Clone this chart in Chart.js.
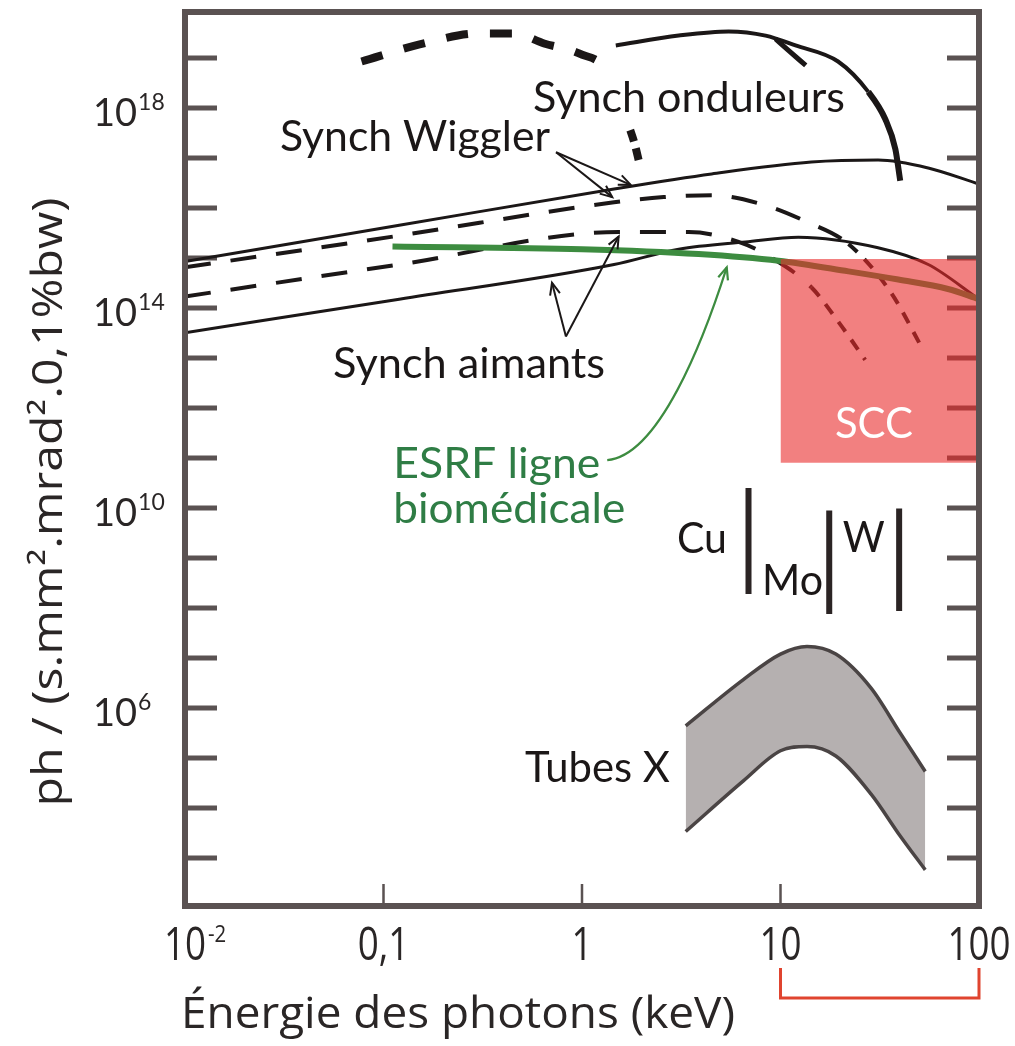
<!DOCTYPE html>
<html>
<head>
<meta charset="utf-8">
<script src="https://cdn.jsdelivr.net/npm/chart.js@4.4.0/dist/chart.umd.min.js"></script>
<style>
  html, body { margin: 0; padding: 0; background: #fff; }
  #wrap { width: 1015px; height: 1046px; }
</style>
</head>
<body>
<div id="wrap"><canvas id="myChart" width="1015" height="1046"></canvas></div>
<script>
// photon energy (keV) / brilliance values
var undSolidE = [1.48, 3.07, 5.48, 8.41, 11.9, 19.5, 27.7, 33.7, 37.9, 40.1];
var undSolidF = [1.78e19, 2.8e19, 3.4e19, 2.8e19, 1.78e19, 8.5e18, 2.1e18, 6.0e17, 1.5e17, 3.5e16];
var undBranchE = [9.44, 11.0, 13.4];
var undBranchF = [2.4e19, 1.4e19, 7.1e18];
var undDashE = [0.0775, 0.152, 0.303, 0.455, 0.644, 0.966, 1.37, 1.75, 1.85, 1.93];
var undDashF = [8.5e18, 1.86e19, 3.1e19, 3.1e19, 1.95e19, 1.23e19, 4.9e18, 3.6e17, 1.8e17, 9e16];
var wigSolidE = [0.01, 0.12, 1.45, 4.5, 14.3, 31, 55.5, 100];
var wigSolidF = [8.5e14, 4.5e15, 2.4e16, 4.8e16, 8.3e16, 9.1e16, 6.3e16, 3.0e16];
var wigDashE = [0.01, 0.12, 1.45, 2.58, 4.5, 8.0, 13.4, 22.0, 36.1, 52.3];
var wigDashF = [6.5e14, 2.8e15, 1.3e16, 1.65e16, 1.8e16, 1.2e16, 5.4e15, 1.9e15, 2.0e14, 1.45e13];
var magDashE = [0.01, 0.12, 1.53, 3.45, 6.15, 8.7, 14.3, 19.5, 26.7];
var magDashF = [1.7e14, 7.4e14, 3.3e15, 3.3e15, 2.1e15, 1.1e15, 2.6e14, 5.4e13, 9.2e12];
var magSolidE = [0.01, 0.12, 1.45, 3.07, 6.67, 12.3, 31, 55.5, 100];
var magSolidF = [3.2e13, 1.5e14, 7.4e14, 1.5e15, 2.1e15, 2.6e15, 1.6e15, 7.4e14, 1.5e14];
var esrfE = [0.111, 1.0, 3.87, 9.77, 22, 39.2, 69.8, 100];
var esrfF = [1.7e15, 1.5e15, 1.2e15, 8.8e14, 5.4e14, 3.7e14, 2.4e14, 1.5e14];
var tubeE = [3.33, 6.5, 10, 13.6, 19, 28.6, 40, 53.6];
var tubeHigh = [4.4e5, 3.7e6, 1.2e7, 1.7e7, 1.2e7, 2.5e6, 3.2e5, 5.4e4];
var tubeLow = [3.4e3, 3.5e4, 1.4e5, 1.7e5, 1.1e5, 1.9e4, 2.8e3, 5.8e2];
var sccE = [10, 100];
var sccTop = [9.5e14, 9.5e14];
var sccBottom = 8e10;
var anodes = ['Cu', 'Mo', 'W'];
var anodeE = [6.9, 17.6, 39.6];
var anodeTop = [2.5e10, 8.9e9, 9.8e9];
var anodeBottom = [1.9e8, 7.6e7, 8.7e7];

// axes
var yMarks = [1e3, 1e4, 1e5, 1e6, 1e7, 1e8, 1e9, 1e10, 1e11, 1e12, 1e13, 1e14, 1e15, 1e16, 1e17, 1e18, 1e19];
var yLabelVals = [1e6, 1e10, 1e14, 1e18];
var yLabelExp = ['6', '10', '14', '18'];
var xMarks = [0.1, 1, 10];
var xLabelVals = [0.01, 0.1, 1, 10, 100];
var xLabelText = ['10', '0,1', '1', '10', '100'];
var xLabelSup = ['-2', '', '', '', ''];

// labels and arrows, anchored in data units
var notes = [
  {t: 'Synch onduleurs', e: 0.566, f: 8.3e17, w: 312, c: '#1b1717'},
  {t: 'Synch Wiggler', e: 0.0301, f: 1.4e17, w: 270, c: '#1b1717'},
  {t: 'Synch aimants', e: 0.0557, f: 4.0e12, w: 272, c: '#1b1717'},
  {t: 'ESRF ligne', e: 0.112, f: 4.0e10, w: 207, c: '#2f7d45'},
  {t: 'biomédicale', e: 0.112, f: 5.0e9, w: 232, c: '#2f7d45'},
  {t: 'SCC', e: 18.8, f: 2.5e11, w: 78, c: '#ffffff'},
  {t: 'Cu', e: 3.01, f: 1.26e9, w: 50, c: '#1b1717'},
  {t: 'Mo', e: 8.07, f: 1.8e8, w: 61, c: '#1b1717'},
  {t: 'W', e: 20.6, f: 1.3e9, w: 42, c: '#1b1717'},
  {t: 'Tubes X', e: 0.516, f: 3.3e4, w: 145, c: '#1b1717'}
];
var arrows = [
  [[0.74, 1.3e17], [1.42, 1.65e16]],
  [[0.74, 1.3e17], [1.76, 2.9e16]],
  [[0.83, 2.7e13], [0.706, 3.2e14]],
  [[0.83, 2.7e13], [1.53, 2.7e15]]
];
var esrfArrow = [[1.34, 9.1e10], [2.44, 1.1e11], [4.10, 2.3e13], [5.36, 6.5e14]];

var ink = '#1b1717';
var axisInk = '#5a5252';
var green = '#3d8c40';

function pts(E, F) {
  return E.map(function(e, i) { return {x: e, y: F[i]}; });
}
function curve(label, E, F, opts) {
  return Object.assign({
    label: label, data: pts(E, F), borderColor: ink, borderWidth: 3,
    pointRadius: 0, fill: false, cubicInterpolationMode: 'monotone', order: 1
  }, opts || {});
}

var datasets = [
  curve('ESRF', esrfE, esrfF, {borderColor: green, borderWidth: 6}),
  curve('Onduleurs', undSolidE, undSolidF, {
    borderWidth: 4,
    segment: {borderWidth: function(c) { return c.p0.parsed.x >= 27 ? 6 : undefined; }}
  }),
  curve('Onduleurs 2', undBranchE, undBranchF, {borderWidth: 5}),
  curve('Onduleurs pointillé', undDashE, undDashF, {
    borderWidth: 8, borderDash: [22, 22],
    segment: {
      borderDash: function(c) { return c.p0.parsed.x >= 1.7 ? [12, 7] : undefined; },
      borderColor: function(c) { return (c.p0.parsed.x >= 1.3 && c.p0.parsed.x < 1.7) ? 'rgba(0,0,0,0)' : undefined; }
    }
  }),
  curve('Wiggler', wigSolidE, wigSolidF),
  curve('Wiggler pointillé', wigDashE, wigDashF, {
    borderWidth: 4, borderDash: [26, 20],
    segment: {borderDash: function(c) { return c.p0.parsed.x >= 20 ? [12, 10] : undefined; }}
  }),
  curve('Aimants pointillé', magDashE, magDashF, {
    borderWidth: 4, borderDash: [26, 20],
    segment: {borderDash: function(c) { return c.p0.parsed.x >= 10 ? [12, 10] : undefined; }}
  }),
  curve('Aimants', magSolidE, magSolidF),
  curve('Tubes haut', tubeE, tubeHigh, {borderColor: '#4a4444', borderWidth: 3.5}),
  curve('Tubes bas', tubeE, tubeLow, {borderColor: '#4a4444', borderWidth: 3.5}),
  // grey band between the two tube curves (index 9 is the lower curve)
  curve('Tubes X', tubeE, tubeHigh, {borderWidth: 0, fill: 9, backgroundColor: '#b5b0b0'})
];
anodes.forEach(function(a, i) {
  datasets.push({
    label: a, data: [{x: anodeE[i], y: anodeTop[i]}, {x: anodeE[i], y: anodeBottom[i]}],
    borderColor: '#2b2424', borderWidth: 6, pointRadius: 0, fill: false, order: 1
  });
});
datasets.push({
  label: 'SCC', data: pts(sccE, sccTop), borderWidth: 0, pointRadius: 0,
  fill: {value: sccBottom}, backgroundColor: 'rgba(233,43,43,0.6)', order: 0
});

function fitText(ctx, s, x, y, font, w, align) {
  ctx.save();
  ctx.font = font;
  var k = w ? w / ctx.measureText(s).width : 1;
  ctx.translate(x, y);
  ctx.scale(k, 1);
  ctx.textAlign = align || 'left';
  ctx.fillText(s, 0, 0);
  ctx.restore();
}
function head(ctx, x0, y0, x1, y1, len) {
  var ang = Math.atan2(y1 - y0, x1 - x0);
  ctx.beginPath();
  ctx.moveTo(x1 - len * Math.cos(ang - 0.4), y1 - len * Math.sin(ang - 0.4));
  ctx.lineTo(x1, y1);
  ctx.lineTo(x1 - len * Math.cos(ang + 0.4), y1 - len * Math.sin(ang + 0.4));
  ctx.stroke();
}

var decor = {
  id: 'decor',
  beforeDatasetsDraw: function(chart) {
    var ctx = chart.ctx, a = chart.chartArea, x = chart.scales.x, y = chart.scales.y;
    ctx.save();
    ctx.strokeStyle = axisInk;
    ctx.lineWidth = 5;
    ctx.beginPath();
    yMarks.forEach(function(v) {
      var py = y.getPixelForValue(v);
      ctx.moveTo(a.left, py); ctx.lineTo(a.left + 32, py);
      ctx.moveTo(a.right - 32, py); ctx.lineTo(a.right, py);
    });
    ctx.stroke();
    ctx.lineWidth = 2.5;
    ctx.beginPath();
    xMarks.forEach(function(v) {
      var px = x.getPixelForValue(v);
      ctx.moveTo(px, a.bottom); ctx.lineTo(px, a.bottom - 22);
    });
    ctx.stroke();
    ctx.restore();
  },
  afterDatasetsDraw: function(chart) {
    var ctx = chart.ctx, a = chart.chartArea, x = chart.scales.x, y = chart.scales.y;
    ctx.save();
    ctx.strokeStyle = axisInk;
    ctx.lineWidth = 6;
    ctx.strokeRect(a.left, a.top, a.right - a.left, a.bottom - a.top);

    // black pointer arrows
    ctx.strokeStyle = ink;
    ctx.lineWidth = 2;
    arrows.forEach(function(ar) {
      var x0 = x.getPixelForValue(ar[0][0]), y0 = y.getPixelForValue(ar[0][1]);
      var x1 = x.getPixelForValue(ar[1][0]), y1 = y.getPixelForValue(ar[1][1]);
      ctx.beginPath(); ctx.moveTo(x0, y0); ctx.lineTo(x1, y1); ctx.stroke();
      head(ctx, x0, y0, x1, y1, 13);
    });
    // green curved arrow
    var p = esrfArrow.map(function(q) { return [x.getPixelForValue(q[0]), y.getPixelForValue(q[1])]; });
    ctx.strokeStyle = green;
    ctx.lineWidth = 2.2;
    ctx.beginPath();
    ctx.moveTo(p[0][0], p[0][1]);
    ctx.bezierCurveTo(p[1][0], p[1][1], p[2][0], p[2][1], p[3][0], p[3][1]);
    ctx.stroke();
    head(ctx, p[2][0], p[2][1], p[3][0], p[3][1], 13);

    // red bracket under 10-100 keV
    var bx0 = x.getPixelForValue(10), bx1 = x.getPixelForValue(100);
    ctx.strokeStyle = '#e0442f';
    ctx.lineWidth = 3;
    ctx.beginPath();
    ctx.moveTo(bx0, a.bottom + 62); ctx.lineTo(bx0, a.bottom + 92);
    ctx.lineTo(bx1, a.bottom + 92); ctx.lineTo(bx1, a.bottom + 62);
    ctx.stroke();
    ctx.restore();
  },
  afterDraw: function(chart) {
    var ctx = chart.ctx, a = chart.chartArea, x = chart.scales.x, y = chart.scales.y;
    ctx.save();
    ctx.textBaseline = 'alphabetic';
    // annotations
    notes.forEach(function(n) {
      ctx.fillStyle = n.c;
      fitText(ctx, n.t, x.getPixelForValue(n.e), y.getPixelForValue(n.f), '42px Lato', n.w);
    });
    // y tick labels
    ctx.fillStyle = '#2a2626';
    yLabelVals.forEach(function(v, i) {
      var py = y.getPixelForValue(v);
      ctx.font = '38px Lato';
      ctx.textAlign = 'left';
      ctx.fillText('10', 93, py + 18);
      var w = ctx.measureText('10').width;
      ctx.font = '23px Lato';
      ctx.fillText(yLabelExp[i], 93 + w + 1, py + 2);
    });
    // x tick labels
    xLabelVals.forEach(function(v, i) {
      var px = x.getPixelForValue(v);
      ctx.save();
      ctx.font = '46px "Open Sans"';
      var w = ctx.measureText(xLabelText[i]).width * 0.8;
      fitText(ctx, xLabelText[i], px, a.bottom + 54, '46px "Open Sans"', w, 'center');
      if (xLabelSup[i]) {
        ctx.font = '24px "Open Sans"';
        var ws = ctx.measureText(xLabelSup[i]).width * 0.85;
        fitText(ctx, xLabelSup[i], px + w / 2 + 2, a.bottom + 36, '24px "Open Sans"', ws, 'left');
      }
      ctx.restore();
    });
    // axis titles
    fitText(ctx, 'Énergie des photons (keV)', 181, 1028, '44px "Open Sans"', 554, 'left');
    ctx.save();
    ctx.translate(50, 502);
    ctx.rotate(-Math.PI / 2);
    ctx.textBaseline = 'middle';
    fitText(ctx, 'ph / (s.mm².mrad².0,1%bw)', 0, 0, '42px "Open Sans"', 609, 'center');
    ctx.restore();
    ctx.restore();
  }
};

new Chart('myChart', {
  type: 'line',
  data: {datasets: datasets},
  options: {
    responsive: false,
    animation: false,
    events: [],
    layout: {padding: {left: 185, right: 36, top: 12, bottom: 140}},
    scales: {
      x: {type: 'logarithmic', min: 0.01, max: 100, display: false},
      y: {type: 'logarithmic', min: 110, max: 8.3e19, display: false}
    },
    plugins: {legend: {display: false}, tooltip: {enabled: false}}
  },
  plugins: [decor]
});
</script>
</body>
</html>
